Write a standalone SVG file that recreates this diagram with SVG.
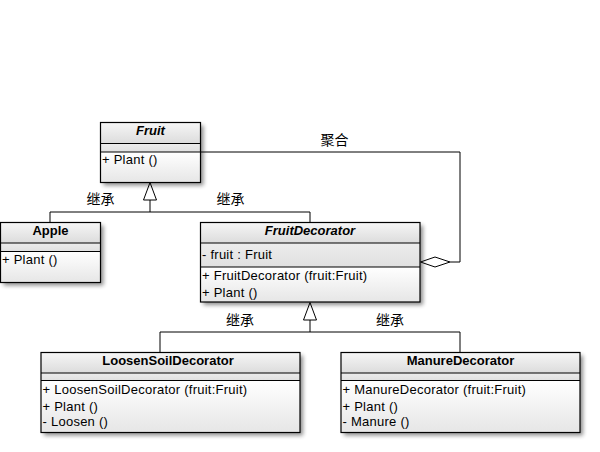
<svg xmlns="http://www.w3.org/2000/svg" width="600" height="452" viewBox="0 0 600 452">
<defs>
<linearGradient id="hd" x1="0" y1="0" x2="0" y2="1">
<stop offset="0" stop-color="#f6f6f6"/><stop offset="1" stop-color="#dcdcdc"/>
</linearGradient>
<linearGradient id="bd" x1="0" y1="0" x2="0" y2="1">
<stop offset="0" stop-color="#ffffff"/><stop offset="1" stop-color="#e6e6e6"/>
</linearGradient>
<linearGradient id="at" x1="0" y1="0" x2="0" y2="1">
<stop offset="0" stop-color="#ececec"/><stop offset="1" stop-color="#e0e0e0"/>
</linearGradient>
<filter id="sh" x="-10%" y="-10%" width="130%" height="140%">
<feGaussianBlur in="SourceAlpha" stdDeviation="2"/>
<feOffset dx="3" dy="3" result="b"/>
<feComponentTransfer><feFuncA type="linear" slope="0.45"/></feComponentTransfer>
<feMerge><feMergeNode/><feMergeNode in="SourceGraphic"/></feMerge>
</filter>
</defs>
<style>
.box{stroke:#000;stroke-width:1.2;}
.ln{stroke:#000;stroke-width:1;fill:none;}
.t{font-family:"Liberation Sans",Arial,sans-serif;font-size:13px;letter-spacing:0.25px;fill:#000;}
.h{font-family:"Liberation Sans",Arial,sans-serif;font-size:13px;font-weight:bold;fill:#000;text-anchor:middle;}
.i{font-style:italic;}
.cn{font-family:"Noto Sans CJK SC",sans-serif;font-size:14px;fill:#000;text-anchor:middle;}
</style>
<rect width="600" height="452" fill="#ffffff"/>

<g id="connectors">
<polyline class="ln" points="150,200 150,212"/>
<polyline class="ln" points="50,222 50,212 310,212 310,222"/>
<polygon class="ln" fill="#fff" points="150,182.5 143.5,200 156.5,200"/>
<polyline class="ln" points="310,320 310,332"/>
<polyline class="ln" points="160,352 160,332 460,332 460,352"/>
<polygon class="ln" fill="#fff" points="310,302.5 303.5,320 316.5,320"/>
<polyline class="ln" points="200.5,152 460,152 460,262 450,262"/>
<polygon class="ln" fill="#fff" points="420.5,262 435,257 450,262 435,267"/>
<text class="cn" x="100.5" y="204">继承</text>
<text class="cn" x="230.5" y="204">继承</text>
<text class="cn" x="334.5" y="145">聚合</text>
<text class="cn" x="240" y="325">继承</text>
<text class="cn" x="390" y="325">继承</text>
</g>

<g id="Fruit">
<g filter="url(#sh)"><rect x="100.5" y="122.5" width="100" height="60" fill="#fff"/></g>
<rect x="100.5" y="122.5" width="100" height="21" fill="url(#hd)"/>
<rect x="100.5" y="143.5" width="100" height="8.5" fill="url(#at)"/>
<rect x="100.5" y="152" width="100" height="30.5" fill="url(#bd)"/>
<rect class="box" x="100.5" y="122.5" width="100" height="60" fill="none"/>
<line class="ln" x1="100.5" y1="143.5" x2="200.5" y2="143.5"/>
<line class="ln" x1="100.5" y1="152" x2="200.5" y2="152"/>
<text class="h i" x="150.5" y="135">Fruit</text>
<text class="t" x="102" y="164">+ Plant ()</text>
</g>

<g id="Apple">
<g filter="url(#sh)"><rect x="0.5" y="222.5" width="100" height="60" fill="#fff"/></g>
<rect x="0.5" y="222.5" width="100" height="20.5" fill="url(#hd)"/>
<rect x="0.5" y="243" width="100" height="8.5" fill="url(#at)"/>
<rect x="0.5" y="251.5" width="100" height="31" fill="url(#bd)"/>
<rect class="box" x="0.5" y="222.5" width="100" height="60" fill="none"/>
<line class="ln" x1="0.5" y1="243" x2="100.5" y2="243"/>
<line class="ln" x1="0.5" y1="251.5" x2="100.5" y2="251.5"/>
<text class="h" x="50.5" y="234.5">Apple</text>
<text class="t" x="2" y="264">+ Plant ()</text>
</g>

<g id="FruitDecorator">
<g filter="url(#sh)"><rect x="200.5" y="222.5" width="219.5" height="79.5" fill="#fff"/></g>
<rect x="200.5" y="222.5" width="219.5" height="20.5" fill="url(#hd)"/>
<rect x="200.5" y="243" width="219.5" height="24" fill="url(#at)"/>
<rect x="200.5" y="267" width="219.5" height="35" fill="url(#bd)"/>
<rect class="box" x="200.5" y="222.5" width="219.5" height="79.5" fill="none"/>
<line class="ln" x1="200.5" y1="243" x2="420" y2="243"/>
<line class="ln" x1="200.5" y1="267" x2="420" y2="267"/>
<text class="h i" x="310" y="234.5">FruitDecorator</text>
<text class="t" x="202" y="259">- fruit : Fruit</text>
<text class="t" x="202" y="280">+ FruitDecorator (fruit:Fruit)</text>
<text class="t" x="202" y="297">+ Plant ()</text>
</g>

<g id="LoosenSoilDecorator">
<g filter="url(#sh)"><rect x="41" y="352.5" width="259" height="80" fill="#fff"/></g>
<rect x="41" y="352.5" width="259" height="20.5" fill="url(#hd)"/>
<rect x="41" y="373" width="259" height="7.5" fill="url(#at)"/>
<rect x="41" y="380.5" width="259" height="52" fill="url(#bd)"/>
<rect class="box" x="41" y="352.5" width="259" height="80" fill="none"/>
<line class="ln" x1="41" y1="373" x2="300" y2="373"/>
<line class="ln" x1="41" y1="380.5" x2="300" y2="380.5"/>
<text class="h" x="168" y="364.5">LoosenSoilDecorator</text>
<text class="t" x="42.5" y="394">+ LoosenSoilDecorator (fruit:Fruit)</text>
<text class="t" x="42.5" y="410.5">+ Plant ()</text>
<text class="t" x="42.5" y="426">- Loosen ()</text>
</g>

<g id="ManureDecorator">
<g filter="url(#sh)"><rect x="341" y="352.5" width="239" height="80" fill="#fff"/></g>
<rect x="341" y="352.5" width="239" height="20.5" fill="url(#hd)"/>
<rect x="341" y="373" width="239" height="7.5" fill="url(#at)"/>
<rect x="341" y="380.5" width="239" height="52" fill="url(#bd)"/>
<rect class="box" x="341" y="352.5" width="239" height="80" fill="none"/>
<line class="ln" x1="341" y1="373" x2="580" y2="373"/>
<line class="ln" x1="341" y1="380.5" x2="580" y2="380.5"/>
<text class="h" x="460.5" y="364.5">ManureDecorator</text>
<text class="t" x="342.5" y="394">+ ManureDecorator (fruit:Fruit)</text>
<text class="t" x="342.5" y="410.5">+ Plant ()</text>
<text class="t" x="342.5" y="426">- Manure ()</text>
</g>
</svg>
